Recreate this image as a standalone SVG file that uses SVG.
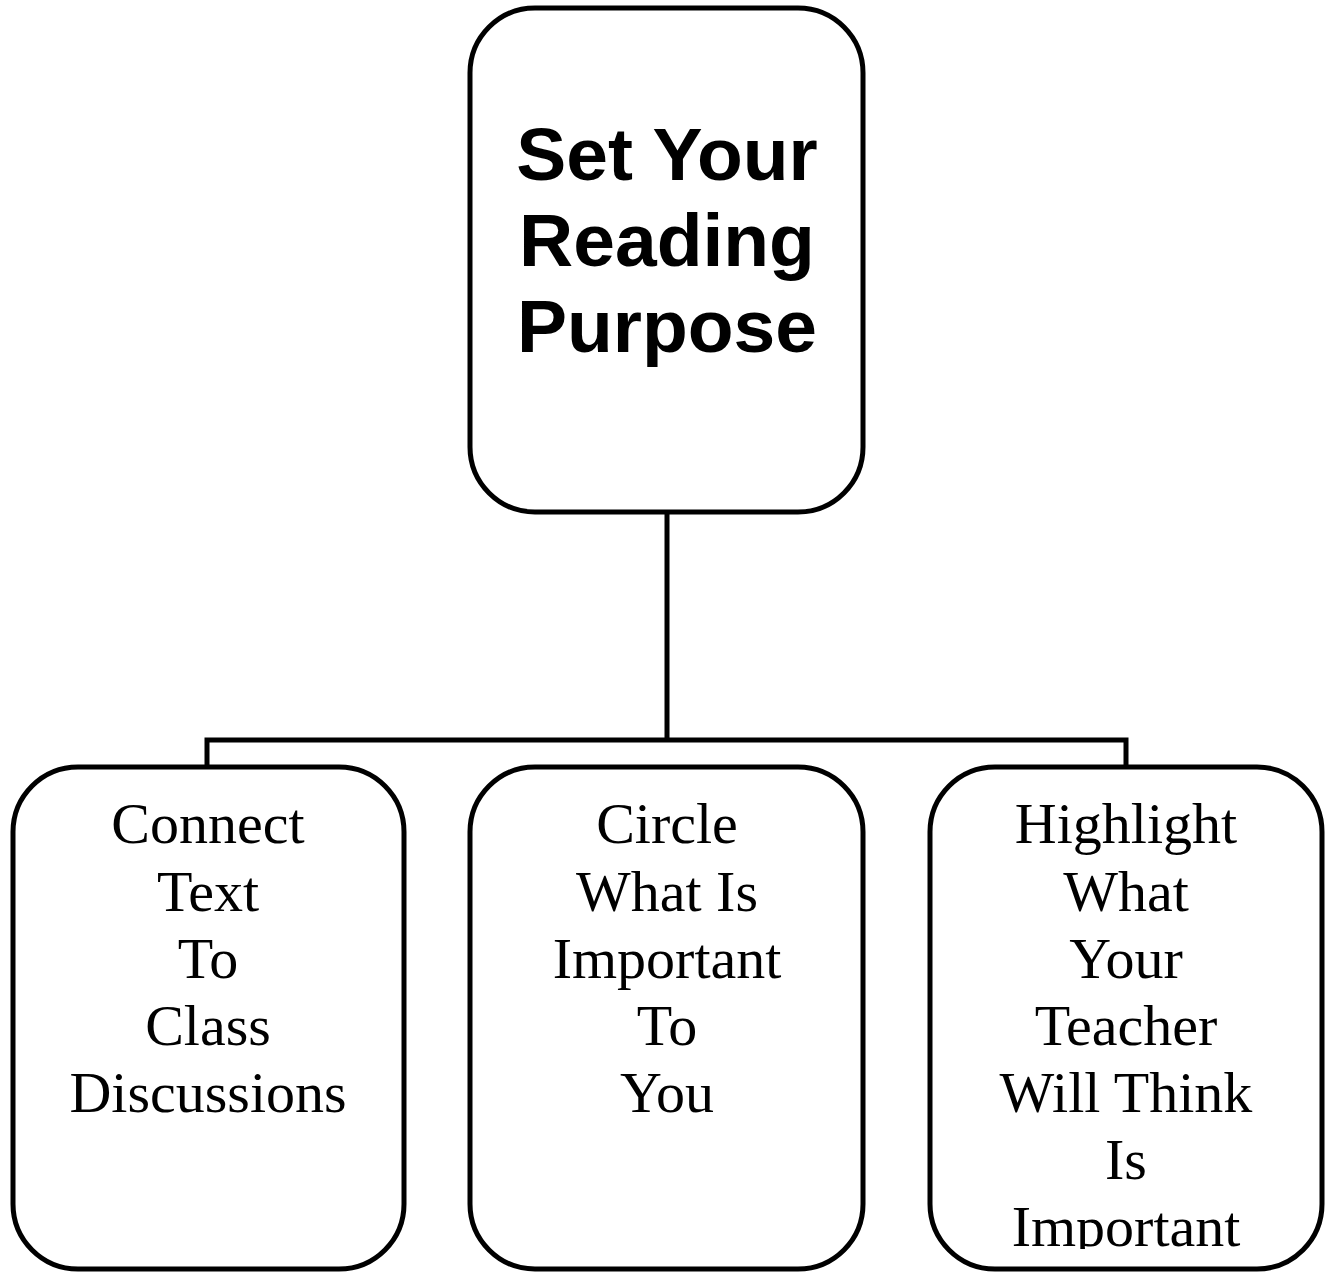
<svg xmlns="http://www.w3.org/2000/svg" width="1332" height="1272" viewBox="0 0 1332 1272">
<style>
.box{fill:#fff;stroke:#000;stroke-width:5}
.conn{fill:none;stroke:#000;stroke-width:5}
.title{font-family:"Liberation Sans",Arial,sans-serif;font-weight:bold;font-size:75px;text-anchor:middle;fill:#000}
.lbl{font-family:"Liberation Serif","Times New Roman",serif;font-size:58px;text-anchor:middle;fill:#000}
</style>
<defs>
<clipPath id="clipR"><rect x="929" y="766" width="394" height="483"/></clipPath>
</defs>
<rect width="1332" height="1272" fill="#fff"/>
<g id="connectors">
<path class="conn" d="M667 512 V740 M207 766 V740 H1126 V766"/>
</g>
<g id="root">
<rect class="box" x="470" y="8" width="393" height="504" rx="65" ry="65"/>
<text class="title" x="667" y="180">Set Your</text>
<text class="title" x="667" y="266">Reading</text>
<text class="title" x="667" y="352">Purpose</text>
</g>
<g id="n1">
<rect class="box" x="13" y="767" width="391" height="502" rx="65" ry="65"/>
<text class="lbl" x="208" y="843">Connect</text>
<text class="lbl" x="208" y="911">Text</text>
<text class="lbl" x="208" y="978">To</text>
<text class="lbl" x="208" y="1045">Class</text>
<text class="lbl" x="208" y="1112">Discussions</text>
</g>
<g id="n2">
<rect class="box" x="470" y="767" width="393" height="502" rx="65" ry="65"/>
<text class="lbl" x="667" y="843">Circle</text>
<text class="lbl" x="667" y="911">What Is</text>
<text class="lbl" x="667" y="978">Important</text>
<text class="lbl" x="667" y="1045">To</text>
<text class="lbl" x="667" y="1112">You</text>
</g>
<g id="n3">
<rect class="box" x="930" y="767" width="392" height="502" rx="65" ry="65"/>
<g clip-path="url(#clipR)">
<text class="lbl" x="1126" y="843">Highlight</text>
<text class="lbl" x="1126" y="911">What</text>
<text class="lbl" x="1126" y="978">Your</text>
<text class="lbl" x="1126" y="1045">Teacher</text>
<text class="lbl" x="1126" y="1112">Will Think</text>
<text class="lbl" x="1126" y="1179">Is</text>
<text class="lbl" x="1126" y="1246">Important</text>
</g>
</g>
</svg>
